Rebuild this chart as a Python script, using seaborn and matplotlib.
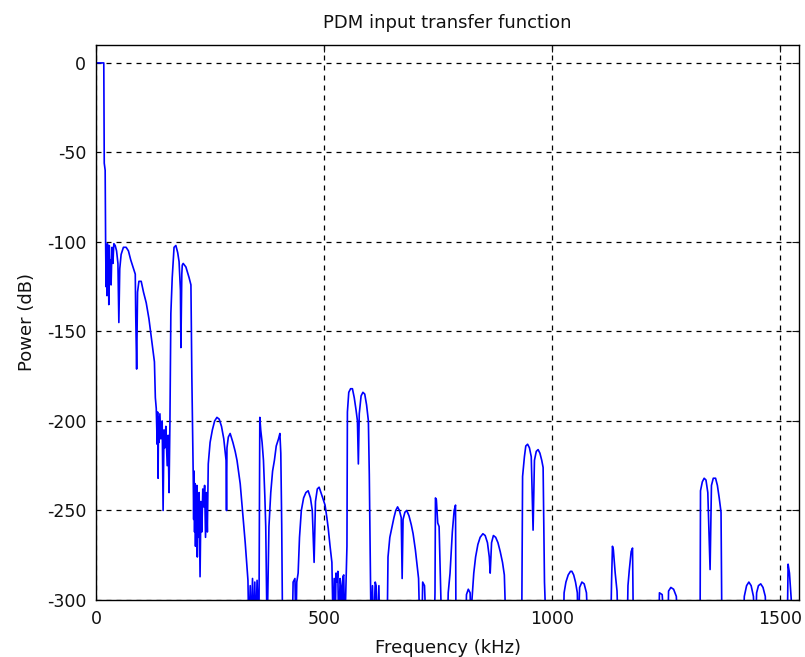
import pandas as pd
import matplotlib
matplotlib.use("Agg")
import matplotlib.pyplot as plt
import seaborn as sns

# passband and first stopband lobes (kHz / dB)
freq_1 = [0, 17, 18, 20, 21, 22, 23, 24, 25, 26,
          27, 28, 29, 31, 32, 33, 35, 37, 39, 42,
          45, 48, 50, 52, 55, 60, 66, 71, 76, 81,
          86, 87, 89, 91, 94, 99, 104, 110, 116, 122,
          128, 130, 132, 134, 135, 136, 137, 138, 140, 142,
          145, 147, 149, 151, 153, 156, 158, 160, 162, 164,
          167, 171, 175, 179, 182, 185, 186, 188, 189, 191,
          197, 204, 208, 210, 212]
power_1 = [0, 0, -56, -60, -100, -125, -104, -130, -101, -118,
           -108, -135, -102, -118, -110, -124, -103, -112, -101, -102,
           -105, -112, -145, -115, -107, -103, -103, -105, -110, -114,
           -118, -141, -171, -128, -122, -122, -128, -134, -143, -155,
           -167, -187, -193, -213, -195, -232, -198, -212, -196, -210,
           -200, -250, -205, -215, -203, -225, -208, -240, -200, -140,
           -120, -103, -102, -106, -111, -127, -159, -118, -113, -112,
           -114, -120, -124, -175, -211]

freq_2 = [213, 214, 215, 216, 217, 218, 219, 220, 221, 222, 223, 224,
          226, 228, 230, 232, 234, 236, 238, 240, 242, 244,
          246, 250, 255, 260, 265, 270, 275, 280, 285, 286,
          287, 290, 294, 300, 305, 309, 316, 322, 327, 333, 335]
power_2 = [-230, -255, -228, -262, -235, -270, -240, -250, -236, -276, -245, -265,
           -240, -287, -245, -262, -238, -248, -236, -265, -240, -262,
           -224, -212, -205, -200, -198, -199, -203, -210, -222, -250,
           -215, -209, -207, -212, -217, -222, -235, -253, -268, -289, -320]

freq_3 = [338, 340, 343, 345, 348, 350, 353, 357, 359, 361,
          364, 367, 370, 372, 375, 379, 383, 387, 391, 395,
          400, 403, 405, 407, 409, 430, 432, 436, 438, 440,
          443, 446, 450, 455, 460, 465, 470, 474, 478, 481,
          485, 489, 493, 498, 502, 506, 509, 513, 517, 520]
power_3 = [-292, -320, -288, -320, -290, -320, -289, -320, -198, -205,
           -212, -222, -242, -259, -320, -259, -240, -228, -222, -214,
           -210, -207, -218, -258, -320, -320, -290, -288, -320, -290,
           -285, -265, -250, -243, -240, -239, -243, -250, -279, -245,
           -238, -237, -240, -244, -247, -254, -260, -270, -279, -320]

freq_4 = [522, 524, 526, 528, 530, 532, 535, 537, 539, 541,
          543, 545, 548, 550, 551, 554, 558, 562, 566, 570,
          573, 575, 577, 581, 585, 589, 593, 597, 599, 601,
          603, 606, 608, 612, 614, 616, 620, 622, 638, 640,
          644, 649, 653, 657, 661, 665, 669, 671, 673, 677,
          681, 686, 691, 695, 700, 704, 707, 710, 714, 716,
          720, 724, 741, 743, 744, 746, 749, 752, 755, 758]
power_4 = [-288, -320, -285, -290, -284, -320, -288, -292, -320, -287,
           -286, -320, -289, -270, -195, -184, -182, -182, -187, -194,
           -200, -224, -196, -186, -184, -185, -191, -200, -230, -275,
           -320, -292, -320, -290, -292, -320, -292, -320, -320, -276,
           -265, -259, -254, -250, -248, -250, -254, -288, -255, -251,
           -250, -253, -258, -263, -272, -281, -288, -320, -320, -290,
           -292, -320, -320, -296, -243, -244, -257, -259, -290, -320]

freq_5 = [770, 772, 776, 781, 785, 788, 789, 810, 812, 816,
          820, 822, 824, 828, 832, 837, 842, 848, 853, 858,
          862, 864, 867, 871, 876, 881, 886, 891, 895, 899,
          933, 935, 939, 942, 946, 950, 954, 958, 961, 965,
          969, 973, 977, 980, 983, 987]
power_5 = [-320, -296, -285, -262, -250, -247, -320, -320, -297, -294,
           -296, -320, -300, -285, -276, -269, -265, -263, -264, -268,
           -276, -285, -268, -264, -265, -268, -273, -279, -286, -320,
           -320, -231, -220, -214, -213, -215, -220, -261, -222, -217,
           -216, -218, -222, -226, -290, -320]

freq_6 = [1024, 1026, 1030, 1035, 1040, 1043, 1047, 1051, 1055, 1057,
          1060, 1065, 1070, 1075, 1079, 1128, 1130, 1132, 1134, 1138,
          1142, 1145, 1164, 1166, 1169, 1173, 1176, 1178, 1233, 1235,
          1241, 1247, 1253, 1255, 1260, 1266, 1272, 1276, 1324, 1325,
          1329, 1333, 1337, 1341, 1346, 1349, 1353, 1358, 1362, 1366,
          1370, 1372, 1418, 1421, 1426, 1431, 1436, 1441, 1445, 1448,
          1452, 1457, 1462, 1467, 1470, 1515, 1517, 1520, 1524, 1526,
          1541]
power_6 = [-320, -296, -290, -286, -284, -284, -286, -290, -296, -320,
           -293, -290, -291, -296, -320, -320, -290, -270, -272, -285,
           -295, -320, -320, -292, -283, -273, -271, -320, -320, -296,
           -297, -320, -320, -295, -293, -294, -298, -320, -320, -239,
           -234, -232, -233, -240, -283, -236, -232, -232, -236, -243,
           -251, -320, -320, -298, -292, -290, -292, -298, -320, -296,
           -292, -291, -293, -298, -320, -320, -280, -285, -300, -320,
           -320]

x_ticks = [0, 500, 1000, 1500]
y_ticks = [0, -50, -100, -150, -200, -250, -300]

df = pd.DataFrame({
    "freq": freq_1 + freq_2 + freq_3 + freq_4 + freq_5 + freq_6,
    "power": power_1 + power_2 + power_3 + power_4 + power_5 + power_6,
})

sns.set_style("white")
plt.rcParams["font.family"] = ["DejaVu Sans"]
plt.rcParams["axes.unicode_minus"] = False
plt.rcParams["text.color"] = "#111111"
plt.rcParams["axes.labelcolor"] = "#111111"

fig = plt.figure(figsize=(8.05, 6.57), dpi=100)
ax = fig.add_axes([0.1193, 0.0868, 0.8733, 0.8447])

sns.lineplot(data=df, x="freq", y="power", sort=False, estimator=None,
             color="#0000ff", linewidth=1.2, ax=ax)

ax.set_xlim(0, 1541)
ax.set_ylim(-300, 10)
ax.set_xticks(x_ticks)
ax.set_yticks(y_ticks)
ax.grid(True, color="black", linestyle=(0, (4, 4)), linewidth=0.9)
ax.tick_params(direction="in", top=True, right=True, length=5, width=0.8,
               labelsize=12.5, colors="#111111", pad=7)
for s in ax.spines.values():
    s.set_color("black")
    s.set_linewidth(1.0)

ax.set_title("PDM input transfer function", fontsize=13, pad=12)
ax.set_xlabel("Frequency (kHz)", fontsize=13, labelpad=8)
ax.set_ylabel("Power (dB)", fontsize=13, labelpad=8)

fig.savefig("out.png", dpi=100)
